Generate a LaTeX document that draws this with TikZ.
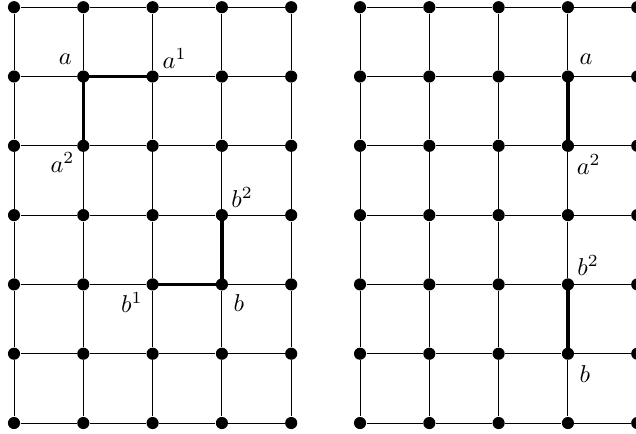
\documentclass[tikz,border=0pt]{standalone}
\begin{document}
\begin{tikzpicture}[
  gridline/.style={line width=0.4pt},
  pathline/.style={line width=1.4pt},
  dot/.style={circle,fill=black,inner sep=0pt,minimum size=0.175cm},
  lab/.style={inner sep=0pt}
]
\useasboundingbox (0,0) rectangle (9.177,6.248);
\begin{scope}
\clip (0,0) rectangle (9.177,6.248);
% dots
\foreach \g/\xo in {L/0.202, R/5.195} {
  \foreach \c in {0,...,4} {
    \foreach \t in {0,...,6} {
      \node[dot] (\g-\c-\t) at ({\xo+\c},{6.144-\t}) {};
    }
  }
}
% grid lines
\foreach \g in {L,R} {
  \foreach \c in {0,...,4} {
    \foreach \t [evaluate=\t as \tn using int(\t+1)] in {0,...,5} {
      \draw[gridline] (\g-\c-\t) -- (\g-\c-\tn);
    }
  }
  \foreach \t in {0,...,6} {
    \foreach \c [evaluate=\c as \cn using int(\c+1)] in {0,...,3} {
      \draw[gridline] (\g-\c-\t) -- (\g-\cn-\t);
    }
  }
}
% thick path segments
\draw[pathline] (L-1-1.center) -- (L-2-1.center);
\draw[pathline] (L-1-1.center) -- (L-1-2.center);
\draw[pathline] (L-3-3.center) -- (L-3-4.center);
\draw[pathline] (L-2-4.center) -- (L-3-4.center);
\draw[pathline] (R-3-1.center) -- (R-3-2.center);
\draw[pathline] (R-3-4.center) -- (R-3-5.center);
% labels
\node[lab] (la)  at ([shift={(-0.26,0.245)}]L-1-1) {$a$};
\node[lab] (la1) at ([shift={(0.317,0.26)}]L-2-1) {$a^1$};
\node[lab] (la2) at ([shift={(-0.30,-0.245)}]L-1-2) {$a^2$};
\node[lab] (lb2) at ([shift={(0.29,0.26)}]L-3-3) {$b^2$};
\node[lab] (lb1) at ([shift={(-0.30,-0.26)}]L-2-4) {$b^1$};
\node[lab] (lb)  at ([shift={(0.245,-0.275)}]L-3-4) {$b$};
\node[lab] (ra)  at ([shift={(0.26,0.245)}]R-3-1) {$a$};
\node[lab] (ra2) at ([shift={(0.30,-0.27)}]R-3-2) {$a^2$};
\node[lab] (rb2) at ([shift={(0.29,0.27)}]R-3-4) {$b^2$};
\node[lab] (rb)  at ([shift={(0.245,-0.29)}]R-3-5) {$b$};
\end{scope}
\end{tikzpicture}
\end{document}
